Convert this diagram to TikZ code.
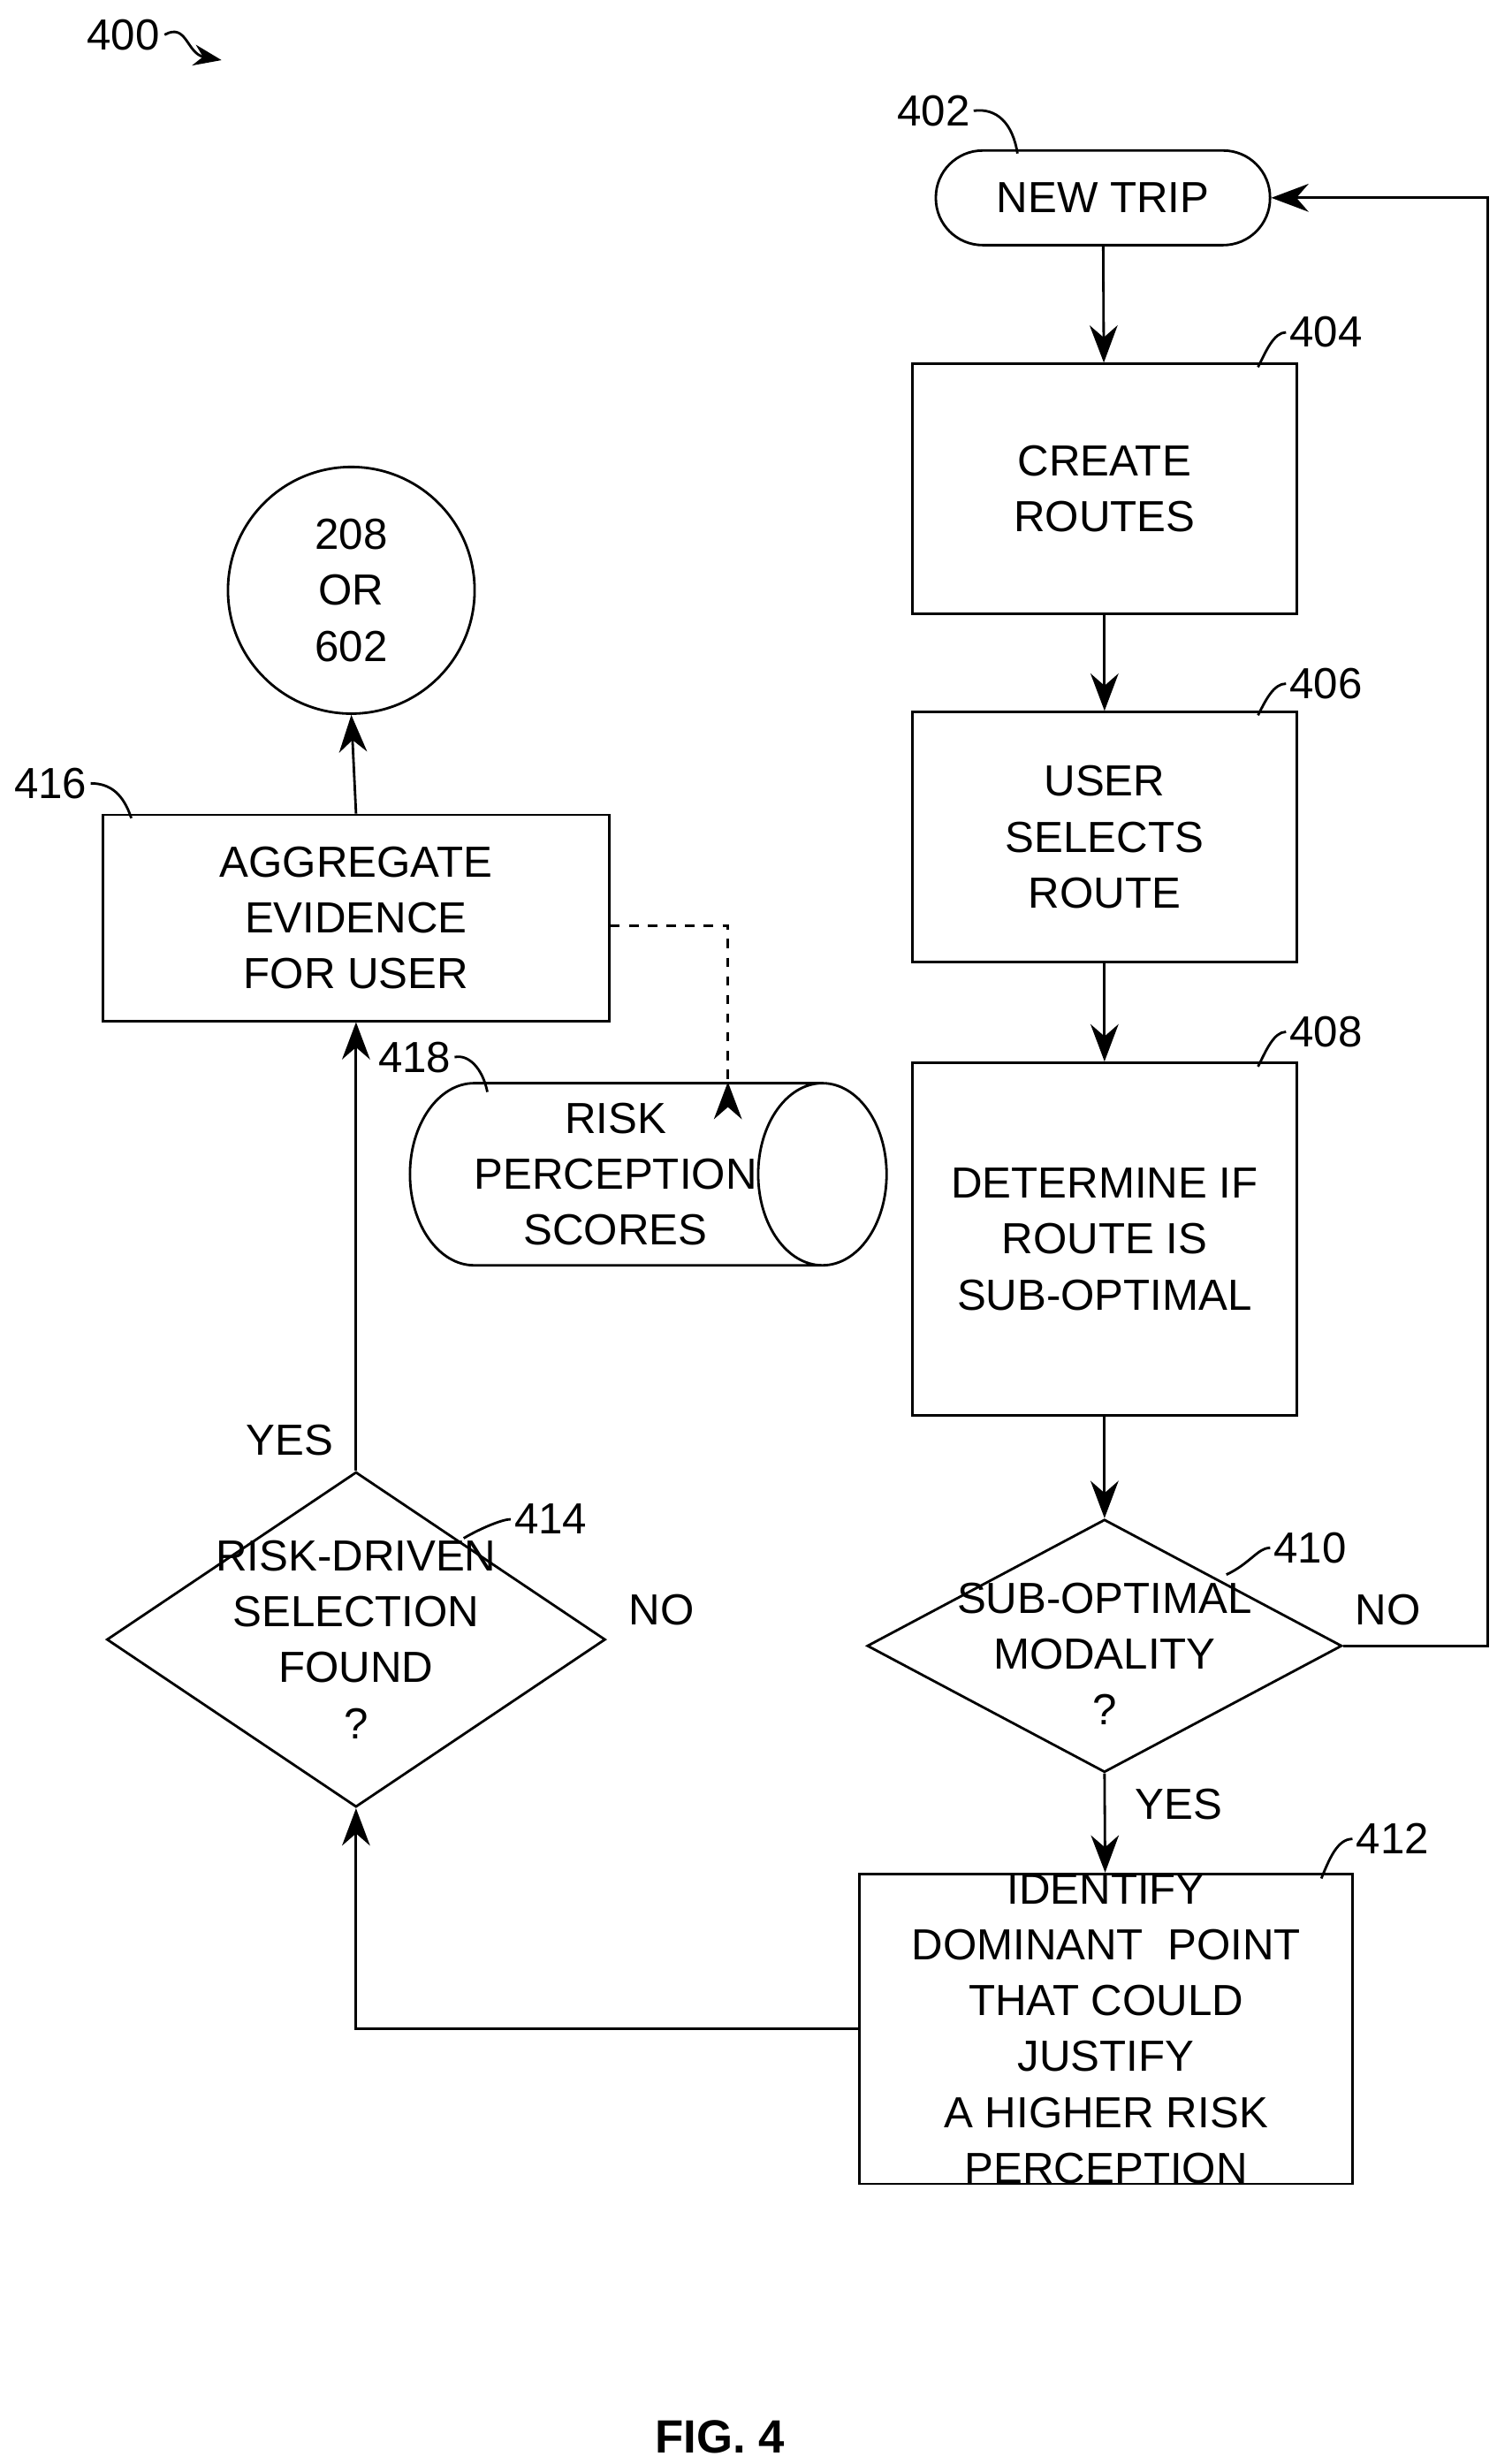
\documentclass[tikz,border=0pt]{standalone}
\usepackage{fontspec}
\setmainfont{Liberation Sans}
\usetikzlibrary{shapes.geometric,arrows.meta}
\tikzset{
  box/.style = {draw, thick, align=center, inner sep=0pt},
  flow/.style = {thick, -{Stealth[length=12pt,width=9pt]}},
  lead/.style = {thick},
  num/.style = {inner sep=1pt}
}
\begin{document}
\fontsize{14}{18}\selectfont
\begin{tikzpicture}[x=0.0179cm, y=-0.0179cm]
\useasboundingbox (0,0) rectangle (946,1557);
% right column
\node[box, rounded corners=0.53cm, minimum width=3.78cm, minimum height=1.07cm] (trip) at (697,125) {NEW TRIP};
\node[box, minimum width=4.35cm, minimum height=2.83cm] (create) at (698,309) {CREATE\\ROUTES};
\node[box, minimum width=4.35cm, minimum height=2.83cm] (select) at (698,529) {USER\\SELECTS\\ROUTE};
\node[box, minimum width=4.35cm, minimum height=3.99cm] (subopt) at (698,783) {DETERMINE IF\\ROUTE IS\\SUB-OPTIMAL};
\node[draw, thick, diamond, inner sep=0pt, minimum width=5.37cm, minimum height=2.86cm, aspect=1.875] (modal) at (698,1040) {};
\node[align=center] at (698,1045) {SUB-OPTIMAL\\MODALITY\\?};
\node[box, minimum width=5.58cm, minimum height=3.49cm] (ident) at (699,1282) {IDENTIFY\\DOMINANT\ \ POINT\\THAT COULD\\JUSTIFY\\A HIGHER RISK\\PERCEPTION};
% left column
\node[draw, thick, diamond, inner sep=0pt, minimum width=5.64cm, minimum height=3.79cm, aspect=1.49] (found) at (225,1036) {};
\node[align=center] at (225,1036) {RISK-DRIVEN\\SELECTION\\FOUND\\?};
\node[box, minimum width=5.73cm, minimum height=2.33cm] (aggr) at (225,580) {AGGREGATE\\EVIDENCE\\FOR USER};
\node[draw, thick, circle, minimum size=2.79cm, align=center, inner sep=0pt] (dest) at (222,373) {208\\OR\\602};
\node[draw, thick, cylinder, shape aspect=0.9, minimum width=2.06cm, minimum height=4.33cm, align=center, inner sep=0pt] (scores) at (389,742) {RISK\\PERCEPTION\\SCORES};
% connectors
\draw[flow] (trip) -- (create);
\draw[flow] (create) -- (select);
\draw[flow] (select) -- (subopt);
\draw[flow] (subopt) -- (modal.north);
\draw[flow] (modal.south) -- (ident);
\draw[flow] (modal.east) -- (940,1040) |- (trip.east);
\draw[flow] (ident.west) -| (found.south);
\draw[flow] (found.north) -- (aggr.south);
\draw[flow] (aggr.north) -- (dest.south);
\draw[flow, dashed] (aggr.east |- 0,585) -| (scores.north -| 460,0) ++(0,0);
% branch labels
\node at (877,1017) {NO};
\node at (745,1140) {YES};
\node at (418,1017) {NO};
\node at (183,910) {YES};
% reference numerals
\node[num] (n400) at (78,22) {400};
\draw[thick, -{Stealth[length=9pt]}] (104,22) .. controls (118,14) and (118,34) .. (140,38);
\node[num] (n402) at (590,70) {402};
\draw[lead] (n402.east) .. controls (630,68) and (640,78) .. (643,97);
\node[num] (n404) at (838,210) {404};
\draw[lead] (n404.west) .. controls (805,210) and (800,222) .. (795,232);
\node[num] (n406) at (838,432) {406};
\draw[lead] (n406.west) .. controls (805,432) and (800,442) .. (795,452);
\node[num] (n408) at (838,652) {408};
\draw[lead] (n408.west) .. controls (805,652) and (800,664) .. (795,674);
\node[num] (n410) at (828,978) {410};
\draw[lead] (n410.west) .. controls (795,978) and (790,988) .. (775,995);
\node[num] (n412) at (880,1162) {412};
\draw[lead] (n412.west) .. controls (845,1162) and (840,1175) .. (835,1187);
\node[num] (n414) at (348,960) {414};
\draw[lead] (n414.west) .. controls (318,960) and (305,965) .. (293,972);
\node[num] (n416) at (32,495) {416};
\draw[lead] (n416.east) .. controls (70,495) and (78,502) .. (83,517);
\node[num] (n418) at (262,668) {418};
\draw[lead] (n418.east) .. controls (296,666) and (305,675) .. (308,690);
\node[font=\bfseries\fontsize{15}{18}\selectfont] at (455,1540) {FIG. 4};
\end{tikzpicture}
\end{document}
